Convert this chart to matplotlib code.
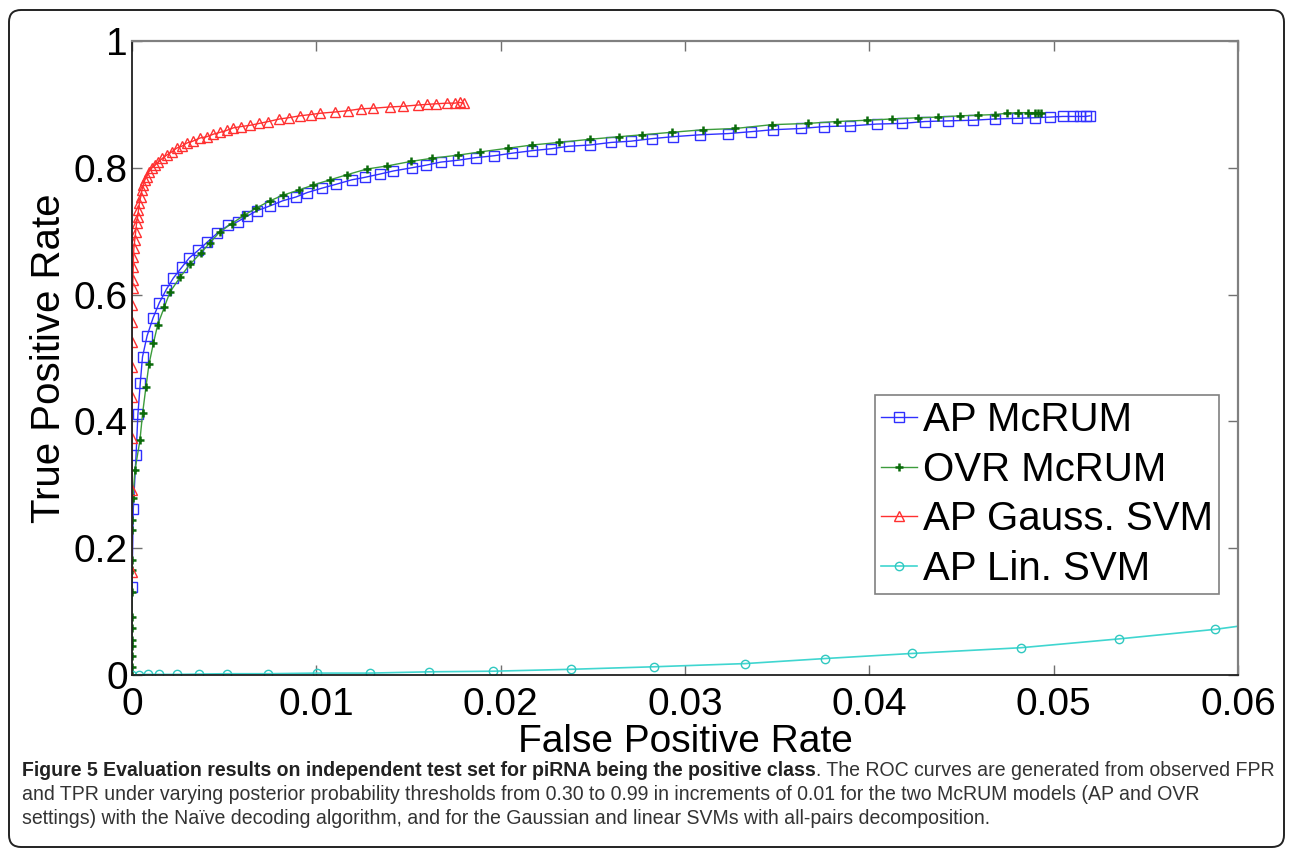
import matplotlib
matplotlib.use("Agg")
import matplotlib.pyplot as plt
from matplotlib import font_manager
from matplotlib.patches import FancyBboxPatch
from matplotlib.transforms import IdentityTransform

# ROC points (FPR, TPR)
ap_mcrum_fpr = [0.0, 0.00007, 0.00022, 0.00032, 0.00045, 0.00057, 0.00082, 0.00114, 0.00148, 0.00186,
                0.00224, 0.0027, 0.00311, 0.0036, 0.00409, 0.00463, 0.00522, 0.00573, 0.00626, 0.00676,
                0.00749, 0.00818, 0.0089, 0.00951, 0.01032, 0.01107, 0.01192, 0.01264, 0.01343, 0.01418,
                0.01517, 0.01593, 0.01675, 0.0177, 0.01865, 0.01964, 0.02061, 0.0217, 0.02273, 0.02369,
                0.02485, 0.02599, 0.02707, 0.02821, 0.02933, 0.03079, 0.03234, 0.0336, 0.03475, 0.03629,
                0.03754, 0.03895, 0.0404, 0.04179, 0.04302, 0.04425, 0.04561, 0.04682, 0.04799, 0.04899,
                0.0498, 0.05049, 0.05103, 0.05143, 0.05175, 0.05197]
ap_mcrum_tpr = [0.139, 0.262, 0.347, 0.411, 0.461, 0.502, 0.535, 0.563, 0.587, 0.608,
                0.626, 0.643, 0.658, 0.67, 0.683, 0.697, 0.709, 0.715, 0.724, 0.732,
                0.74, 0.748, 0.754, 0.761, 0.768, 0.774, 0.781, 0.785, 0.79, 0.795,
                0.8, 0.804, 0.809, 0.812, 0.816, 0.819, 0.823, 0.827, 0.83, 0.834,
                0.836, 0.84, 0.842, 0.846, 0.849, 0.852, 0.854, 0.857, 0.86, 0.862,
                0.865, 0.866, 0.869, 0.87, 0.873, 0.874, 0.875, 0.877, 0.878, 0.879,
                0.88, 0.881, 0.881, 0.881, 0.881, 0.882]

ovr_mcrum_fpr = [0, 0, 0, 0, 0, 0, 0, 0, 0, 0, 0, 0, 0.00005, 0.00016, 0.00043, 0.00058, 0.00076, 0.00092,
                 0.00116, 0.00139, 0.00175, 0.00206, 0.0026, 0.00315, 0.00375, 0.00423, 0.00477, 0.00541,
                 0.00608, 0.00671, 0.00749, 0.00821, 0.00906, 0.00984, 0.01074, 0.01165, 0.01273, 0.01385,
                 0.01512, 0.01626, 0.0177, 0.01888, 0.02041, 0.02172, 0.02316, 0.02485, 0.0264, 0.02765,
                 0.02928, 0.03098, 0.03272, 0.0347, 0.03666, 0.03823, 0.03986, 0.04121, 0.04266, 0.04374,
                 0.04492, 0.04591, 0.04682, 0.04745, 0.04808, 0.04862, 0.04899, 0.04917, 0.0493]
ovr_mcrum_tpr = [0.0, 0.012, 0.03, 0.045, 0.055, 0.074, 0.091, 0.131, 0.166, 0.181, 0.229, 0.245, 0.279,
                 0.323, 0.37, 0.414, 0.455, 0.49, 0.523, 0.552, 0.58, 0.604, 0.627, 0.648, 0.666, 0.682,
                 0.699, 0.712, 0.725, 0.736, 0.748, 0.757, 0.765, 0.773, 0.781, 0.789, 0.798, 0.803, 0.81,
                 0.815, 0.82, 0.825, 0.831, 0.836, 0.84, 0.845, 0.849, 0.852, 0.856, 0.86, 0.862, 0.868,
                 0.87, 0.873, 0.875, 0.877, 0.879, 0.88, 0.882, 0.883, 0.884, 0.886, 0.887, 0.887, 0.887,
                 0.887, 0.887]

gauss_svm_fpr = [0, 0, 0, 0, 0, 0, 0, 0, 0.00003, 0.00005, 0.00007, 0.00008, 0.0001, 0.00015, 0.0002,
                 0.00025, 0.0003, 0.00035, 0.0004, 0.00047, 0.00054, 0.00062, 0.0007, 0.0008, 0.00092,
                 0.00107, 0.00125, 0.00143, 0.00165, 0.00188, 0.00215, 0.00242, 0.0027, 0.00297, 0.0033,
                 0.00369, 0.00405, 0.00441, 0.00478, 0.00514, 0.0055, 0.0059, 0.0064, 0.0069, 0.0074,
                 0.008, 0.0085, 0.0091, 0.0097, 0.0102, 0.011, 0.0117, 0.0124, 0.0131, 0.014, 0.0147,
                 0.0155, 0.016, 0.0165, 0.0171, 0.0175, 0.0178, 0.018]
gauss_svm_tpr = [0.162, 0.292, 0.374, 0.438, 0.486, 0.525, 0.557, 0.584, 0.61, 0.623, 0.644, 0.66, 0.673,
                 0.686, 0.699, 0.713, 0.722, 0.733, 0.744, 0.754, 0.765, 0.773, 0.781, 0.786, 0.794, 0.8,
                 0.804, 0.809, 0.815, 0.82, 0.825, 0.831, 0.834, 0.839, 0.842, 0.847, 0.849, 0.853, 0.856,
                 0.859, 0.863, 0.865, 0.867, 0.87, 0.873, 0.877, 0.879, 0.882, 0.884, 0.886, 0.888, 0.89,
                 0.893, 0.894, 0.896, 0.897, 0.899, 0.9, 0.901, 0.902, 0.902, 0.903, 0.902]

lin_svm_fpr = [0, 0.0004, 0.00088, 0.00148, 0.00246, 0.00365, 0.00514, 0.00736, 0.01002, 0.01291,
               0.0161, 0.01959, 0.02383, 0.02834, 0.03326, 0.03762, 0.04232, 0.04821, 0.05356, 0.05876,
               0.0641, 0.0700]
lin_svm_tpr = [0.0, 0.0005, 0.001, 0.001, 0.001, 0.0015, 0.002, 0.002, 0.003, 0.003,
               0.005, 0.006, 0.009, 0.013, 0.018, 0.026, 0.034, 0.043, 0.057, 0.072,
               0.093, 0.118]

xticks = [0, 0.01, 0.02, 0.03, 0.04, 0.05, 0.06]
xticklabels = ['0', '0.01', '0.02', '0.03', '0.04', '0.05', '0.06']
yticks = [0, 0.2, 0.4, 0.6, 0.8, 1.0]
yticklabels = ['0', '0.2', '0.4', '0.6', '0.8', '1']

cap_bold = 'Figure 5 Evaluation results on independent test set for piRNA being the positive class'
cap_lines = ['. The ROC curves are generated from observed FPR',
             'and TPR under varying posterior probability thresholds from 0.30 to 0.99 in increments of 0.01 for the two McRUM models (AP and OVR',
             'settings) with the Na\u00efve decoding algorithm, and for the Gaussian and linear SVMs with all-pairs decomposition.']

plt.rcParams['font.family'] = ['Liberation Sans', 'DejaVu Sans']

W, H = 1293, 851
fig = plt.figure(figsize=(W / 100, H / 100), dpi=100)
ax = fig.add_axes([132 / W, 1 - 675 / H, (1238 - 132) / W, (675 - 41) / H])

ax.plot(ap_mcrum_fpr, ap_mcrum_tpr, color='#3030ff', lw=1.0, marker='s', ms=7,
        mfc='none', mec='#3030ff', mew=1.0, label='AP McRUM')
ax.plot(ovr_mcrum_fpr, ovr_mcrum_tpr, color='#3c9c3c', lw=1.0, marker='+', ms=6,
        mec='#0b6b0b', mew=1.8, label='OVR McRUM')
ax.plot(gauss_svm_fpr, gauss_svm_tpr, color='#ff3030', lw=1.0, marker='^', ms=7,
        mfc='none', mec='#ff3030', mew=1.0, label='AP Gauss. SVM')
ax.plot(lin_svm_fpr, lin_svm_tpr, color='#40d6d0', lw=1.2, marker='o', ms=6,
        mfc='none', mec='#30c8c0', mew=1.0, label='AP Lin. SVM')

ax.set_xlim(0, 0.06)
ax.set_ylim(0, 1)
ax.set_xticks(xticks)
ax.set_xticklabels(xticklabels)
ax.set_yticks(yticks)
ax.set_yticklabels(yticklabels)
ax.tick_params(direction='in', length=7, width=1, color='#707070', labelsize=28,
               top=True, right=True)
ax.tick_params(axis='x', pad=8.6)
ax.tick_params(axis='y', pad=3)
for s in ['left', 'bottom']:
    ax.spines[s].set_color('#202020')
    ax.spines[s].set_linewidth(1.3)
for s in ['top', 'right']:
    ax.spines[s].set_color('#808080')
    ax.spines[s].set_linewidth(1.6)

ax.set_xlabel('False Positive Rate', fontsize=28)
ax.set_ylabel('True Positive Rate', fontsize=29)
ax.xaxis.set_label_coords(0.5, -0.078)
ax.yaxis.set_label_coords(-0.058, 0.5)

leg = ax.legend(loc='upper right', bbox_to_anchor=(1219 / W, 1 - 395 / H),
                bbox_transform=fig.transFigure, borderaxespad=0, fontsize=29,
                fancybox=False, framealpha=1, edgecolor='#808080',
                handlelength=0.9, handletextpad=0.15, labelspacing=0.29,
                borderpad=0.15)
leg.get_frame().set_linewidth(1.2)

# caption
names = {f.name for f in font_manager.fontManager.ttflist}
cap_font = 'Liberation Sans Narrow' if 'Liberation Sans Narrow' in names else 'Liberation Sans'
x0 = 22
ys = [770, 794, 818]
fs0 = 13
tb = fig.text(x0 / W, 1 - ys[0] / H, cap_bold, fontweight='bold', fontsize=fs0,
              family=cap_font, va='center', color='#222222')
tr = [fig.text(x0 / W, 1 - y / H, t, fontsize=fs0, family=cap_font, va='center', color='#333333')
      for t, y in zip(cap_lines, ys)]
fig.canvas.draw()
r = fig.canvas.get_renderer()
w1 = tb.get_window_extent(r).width + tr[0].get_window_extent(r).width
fs = fs0 * (1274 - x0) / w1
tb.set_fontsize(fs)
for t in tr:
    t.set_fontsize(fs)
fig.canvas.draw()
bx = tb.get_window_extent(r).x1
tr[0].set_x(bx / W)

border = FancyBboxPatch((9, 4), 1275, 837, boxstyle='round,pad=0,rounding_size=12',
                        transform=IdentityTransform(), fill=False, ec='#222222', lw=1.4)
fig.add_artist(border)

fig.savefig('out.png', dpi=100)
